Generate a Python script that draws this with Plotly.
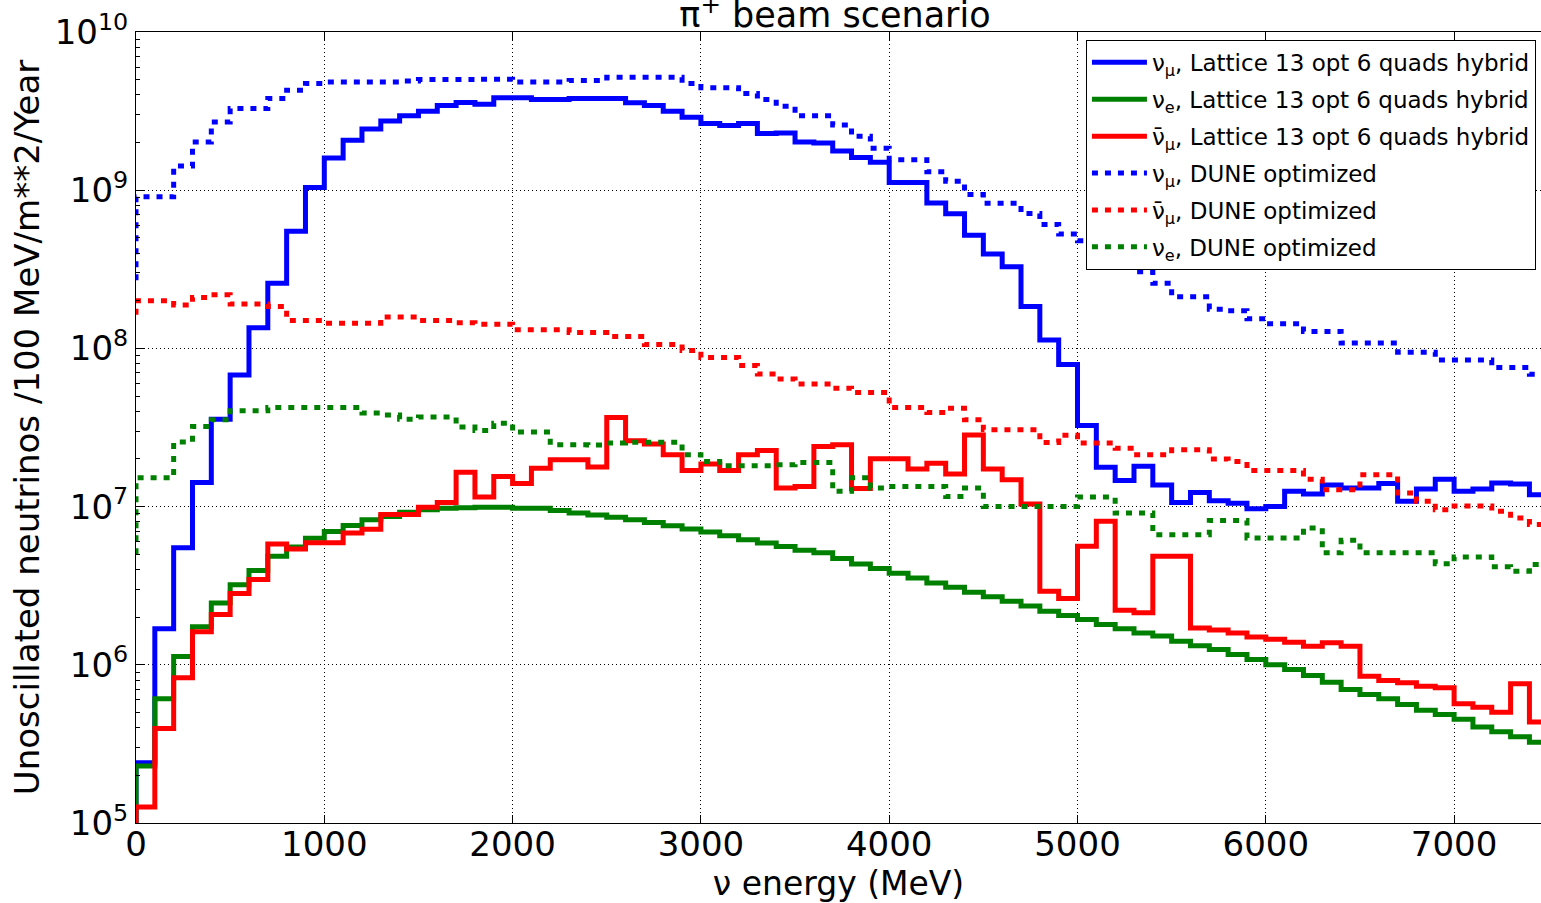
import plotly.graph_objects as go

# Energy bins: 100 MeV wide, 0 - 7500 MeV
bin_lo = list(range(0, 7500, 100))
e_max = 7500

# Lattice 13 opt 6 quads hybrid fluxes (per 100 MeV bin)
nu_mu_lattice = [
    2.4e5, 1.69e6, 5.5e6, 1.42e7, 3.57e7, 6.8e7, 1.35e8, 2.58e8, 5.5e8, 1.04e9,
    1.6e9, 2.07e9, 2.44e9, 2.74e9, 2.95e9, 3.16e9, 3.43e9, 3.58e9, 3.5e9, 3.84e9,
    3.84e9, 3.74e9, 3.74e9, 3.8e9, 3.8e9, 3.8e9, 3.57e9, 3.43e9, 3.16e9, 2.89e9,
    2.64e9, 2.56e9, 2.64e9, 2.28e9, 2.3e9, 2.02e9, 1.99e9, 1.77e9, 1.61e9, 1.5e9,
    1.12e9, 1.12e9, 8.3e8, 7.1e8, 5.2e8, 3.95e8, 3.28e8, 1.84e8, 1.13e8, 7.9e7,
    3.26e7, 1.77e7, 1.46e7, 1.8e7, 1.37e7, 1.06e7, 1.23e7, 1.09e7, 1.05e7, 9.7e6,
    1.0e7, 1.25e7, 1.2e7, 1.37e7, 1.31e7, 1.31e7, 1.4e7, 1.08e7, 1.29e7, 1.49e7,
    1.25e7, 1.29e7, 1.41e7, 1.39e7, 1.19e7,
]
nu_e_lattice = [
    2.29e5, 6.1e5, 1.13e6, 1.74e6, 2.46e6, 3.21e6, 3.95e6, 4.85e6, 5.55e6, 6.3e6,
    6.97e6, 7.6e6, 8.26e6, 8.67e6, 9.2e6, 9.55e6, 9.75e6, 9.85e6, 9.9e6, 9.9e6,
    9.75e6, 9.75e6, 9.46e6, 9.12e6, 8.86e6, 8.55e6, 8.26e6, 7.94e6, 7.57e6, 7.21e6,
    6.91e6, 6.55e6, 6.18e6, 5.89e6, 5.6e6, 5.29e6, 5.1e6, 4.69e6, 4.34e6, 4.06e6,
    3.79e6, 3.54e6, 3.29e6, 3.09e6, 2.87e6, 2.69e6, 2.52e6, 2.35e6, 2.18e6, 2.05e6,
    1.93e6, 1.8e6, 1.69e6, 1.59e6, 1.52e6, 1.41e6, 1.32e6, 1.25e6, 1.16e6, 1.08e6,
    1.0e6, 9.34e5, 8.55e5, 7.76e5, 6.98e5, 6.5e5, 6.1e5, 5.61e5, 5.17e5, 4.85e5,
    4.52e5, 4.04e5, 3.78e5, 3.51e5, 3.24e5,
]
nubar_mu_lattice = [
    1.26e5, 3.96e5, 8.28e5, 1.62e6, 2.08e6, 2.82e6, 3.46e6, 5.8e6, 5.4e6, 5.9e6,
    5.9e6, 6.81e6, 7.2e6, 8.9e6, 8.9e6, 9.9e6, 1.06e7, 1.65e7, 1.15e7, 1.55e7,
    1.4e7, 1.75e7, 1.98e7, 1.98e7, 1.78e7, 3.66e7, 2.61e7, 2.49e7, 2.13e7, 1.69e7,
    1.86e7, 1.69e7, 2.13e7, 2.26e7, 1.31e7, 1.34e7, 2.4e7, 2.46e7, 1.3e7, 2.01e7,
    2.01e7, 1.73e7, 1.88e7, 1.61e7, 2.84e7, 1.73e7, 1.48e7, 1.04e7, 2.92e6, 2.62e6,
    5.61e6, 8.08e6, 2.21e6, 2.13e6, 4.85e6, 4.85e6, 1.71e6, 1.66e6, 1.59e6, 1.5e6,
    1.45e6, 1.39e6, 1.31e6, 1.38e6, 1.31e6, 8.47e5, 7.96e5, 7.7e5, 7.33e5, 7.16e5,
    5.67e5, 5.4e5, 5.02e5, 7.59e5, 4.35e5,
]

# DUNE optimized reference fluxes
nu_mu_dune = [
    9.1e8, 9.1e8, 1.42e9, 2.02e9, 2.7e9, 3.28e9, 3.28e9, 3.8e9, 4.29e9, 4.73e9,
    4.83e9, 4.83e9, 4.83e9, 4.83e9, 4.9e9, 5.0e9, 5.0e9, 5.0e9, 5.03e9, 5.03e9,
    4.83e9, 4.83e9, 4.83e9, 4.93e9, 4.93e9, 5.17e9, 5.17e9, 5.17e9, 5.17e9, 4.73e9,
    4.45e9, 4.45e9, 4.08e9, 3.74e9, 3.39e9, 2.95e9, 2.95e9, 2.58e9, 2.19e9, 1.84e9,
    1.56e9, 1.56e9, 1.31e9, 1.14e9, 9.4e8, 8.26e8, 8.26e8, 7.13e8, 6.08e8, 5.28e8,
    4.8e8, 4.0e8, 3.5e8, 3.05e8, 2.58e8, 2.12e8, 2.12e8, 1.77e8, 1.73e8, 1.54e8,
    1.43e8, 1.43e8, 1.28e8, 1.28e8, 1.08e8, 1.08e8, 1.08e8, 9.46e7, 9.46e7, 8.45e7,
    8.45e7, 8.45e7, 7.56e7, 7.56e7, 6.87e7,
]
nubar_mu_dune = [
    2.0e8, 2.0e8, 1.88e8, 2.1e8, 2.18e8, 1.91e8, 1.91e8, 1.84e8, 1.5e8, 1.5e8,
    1.44e8, 1.44e8, 1.44e8, 1.58e8, 1.58e8, 1.5e8, 1.5e8, 1.45e8, 1.42e8, 1.42e8,
    1.31e8, 1.31e8, 1.31e8, 1.26e8, 1.26e8, 1.19e8, 1.19e8, 1.06e8, 1.06e8, 9.7e7,
    8.75e7, 8.75e7, 7.8e7, 6.88e7, 6.4e7, 5.95e7, 5.95e7, 5.6e7, 5.26e7, 5.26e7,
    4.23e7, 4.23e7, 3.94e7, 4.19e7, 3.54e7, 3.06e7, 3.06e7, 3.06e7, 2.54e7, 2.82e7,
    2.52e7, 2.52e7, 2.34e7, 2.13e7, 2.13e7, 2.29e7, 2.29e7, 2.0e7, 1.93e7, 1.69e7,
    1.69e7, 1.69e7, 1.49e7, 1.28e7, 1.28e7, 1.59e7, 1.59e7, 1.22e7, 1.08e7, 9.55e6,
    1.01e7, 1.01e7, 9.33e6, 8.47e6, 7.7e6,
]
nu_e_dune = [
    1.52e7, 1.52e7, 2.56e7, 3.21e7, 3.54e7, 4.03e7, 4.03e7, 4.23e7, 4.23e7, 4.23e7,
    4.23e7, 4.23e7, 3.9e7, 3.8e7, 3.57e7, 3.68e7, 3.68e7, 3.18e7, 3.03e7, 3.37e7,
    2.96e7, 2.96e7, 2.46e7, 2.46e7, 2.45e7, 2.52e7, 2.55e7, 2.55e7, 2.55e7, 2.13e7,
    1.93e7, 1.81e7, 1.81e7, 1.81e7, 1.84e7, 1.9e7, 1.9e7, 1.25e7, 1.52e7, 1.31e7,
    1.34e7, 1.34e7, 1.34e7, 1.16e7, 1.31e7, 1.0e7, 1.0e7, 1.0e7, 1.0e7, 1.0e7,
    1.15e7, 1.15e7, 9.12e6, 9.12e6, 6.65e6, 6.65e6, 6.65e6, 8.18e6, 8.18e6, 6.34e6,
    6.34e6, 6.34e6, 7.33e6, 5.1e6, 6.12e6, 5.1e6, 5.1e6, 5.1e6, 5.1e6, 4.35e6,
    4.81e6, 4.81e6, 4.16e6, 3.9e6, 4.3e6,
]

# Value each step outline rises from at E = 0
hist_floor = 1e3
dune_start = {"nu_mu": 2.7e8, "nubar_mu": 1.63e8, "nu_e": 5.0e6}

y_ticks = [1e5, 1e6, 1e7, 1e8, 1e9, 1e10]
y_tick_text = ["10<sup>5</sup>", "10<sup>6</sup>", "10<sup>7</sup>",
               "10<sup>8</sup>", "10<sup>9</sup>", "10<sup>10</sup>"]
x_ticks = [0, 1000, 2000, 3000, 4000, 5000, 6000, 7000]

BLUE, GREEN, RED = "#0000ff", "#008000", "#ff0000"
FONT = "DejaVu Sans"


def step_xy(values, start):
    xs = [0] + bin_lo + [e_max]
    ys = [start] + list(values) + [values[-1]]
    return xs, ys


series = [
    (nu_mu_lattice, hist_floor, BLUE, "solid",
     "ν<sub>μ</sub>, Lattice 13 opt 6 quads hybrid"),
    (nu_e_lattice, hist_floor, GREEN, "solid",
     "ν<sub>e</sub>, Lattice 13 opt 6 quads hybrid"),
    (nubar_mu_lattice, hist_floor, RED, "solid",
     "ν̄<sub>μ</sub>, Lattice 13 opt 6 quads hybrid"),
    (nu_mu_dune, dune_start["nu_mu"], BLUE, "6px,7px",
     "ν<sub>μ</sub>, DUNE optimized"),
    (nubar_mu_dune, dune_start["nubar_mu"], RED, "6px,7px",
     "ν̄<sub>μ</sub>, DUNE optimized"),
    (nu_e_dune, dune_start["nu_e"], GREEN, "6px,7px",
     "ν<sub>e</sub>, DUNE optimized"),
]

fig = go.Figure()
for i, (vals, start, color, dash, name) in enumerate(series):
    xs, ys = step_xy(vals, start)
    fig.add_trace(go.Scatter(
        x=xs, y=ys, mode="lines", name=name, legendgroup=f"g{i}",
        line=dict(color=color, width=5, dash=dash, shape="hv"),
    ))

W, H = 1541, 903
L, R, T, B = 136, 0, 32, 80

fig.update_layout(
    width=W, height=H,
    margin=dict(l=L, r=R, t=T, b=B, pad=0),
    paper_bgcolor="white", plot_bgcolor="white",
    font=dict(family=FONT, color="black", size=32),
    showlegend=True,
    legend=dict(
        x=0.9964, y=0.99, xanchor="right", yanchor="top",
        bgcolor="white", bordercolor="black", borderwidth=1,
        font=dict(family=FONT, size=23, color="black"),
        tracegroupgap=4, itemwidth=55,
    ),
    title=dict(
        text="π<sup>+</sup> beam scenario",
        x=(835 - L) / (W - L - R), xref="paper", xanchor="center",
        y=1 - 15 / H, yref="container", yanchor="middle",
        font=dict(family=FONT, size=35, color="black"),
    ),
    xaxis=dict(
        range=[0, (W - L - R) / 0.1883], tickvals=x_ticks,
        ticks="inside", ticklen=8, tickcolor="black", tickwidth=1,
        showline=True, linecolor="black", linewidth=1, mirror="ticks",
        showgrid=True, gridcolor="black", gridwidth=1, griddash="1px,3px",
        zeroline=False, ticklabelstandoff=-9,
        tickfont=dict(family=FONT, size=34),
        title=dict(text="ν energy (MeV)", font=dict(family=FONT, size=33),
                   standoff=2),
    ),
    yaxis=dict(
        type="log", range=[5, 10], tickvals=y_ticks, ticktext=y_tick_text,
        ticks="inside", ticklen=8, tickcolor="black", tickwidth=1,
        showline=True, linecolor="black", linewidth=1, mirror=False,
        showgrid=True, gridcolor="black", gridwidth=1, griddash="1px,3px",
        zeroline=False,
        minor=dict(ticks="inside", ticklen=4, tickcolor="black", dtick="D1",
                   showgrid=False),
        tickfont=dict(family=FONT, size=34),
        title=dict(text="Unoscillated neutrinos /100 MeV/m**2/Year",
                   font=dict(family=FONT, size=34), standoff=4),
    ),
)

fig.write_html("out.html")
